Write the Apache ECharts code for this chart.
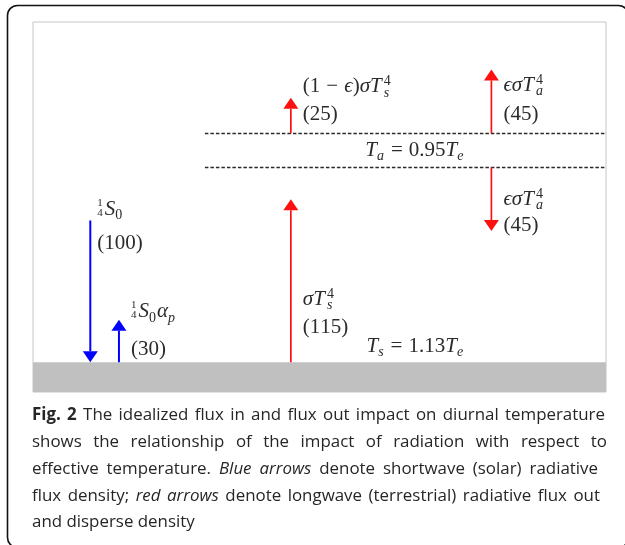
<!DOCTYPE html>
<html>
<head>
<meta charset="utf-8">
<title>Idealized flux in and flux out</title>
<script src="https://cdn.jsdelivr.net/npm/echarts@6/dist/echarts.min.js"></script>
<style>
html,body{margin:0;padding:0;background:#fff;}
#chart{width:625px;height:545px;}
</style>
</head>
<body>
<div id="chart"></div>
<script>
// ---------------- data ----------------
const fluxNames = ['1/4 S_0', '1/4 S_0 α_p', 'σT_s^4', '(1 − ϵ)σT_s^4', 'ϵσT_a^4', 'ϵσT_a^4'];
const fluxValues = [100, 30, 115, 25, 45, 45];
const fluxDirections = ['down', 'up', 'up', 'up', 'up', 'down'];
const fluxBands = ['shortwave', 'shortwave', 'longwave', 'longwave', 'longwave', 'longwave'];
const layerNames = ['T_a = 0.95T_e', 'T_s = 1.13T_e'];
const captionLines = [
  'Fig. 2 The idealized flux in and flux out impact on diurnal temperature',
  'shows the relationship of the impact of radiation with respect to',
  'effective temperature. Blue arrows denote shortwave (solar) radiative',
  'flux density; red arrows denote longwave (terrestrial) radiative flux out',
  'and disperse density'
];

// ---------------- layout (not data) ----------------
const LEVEL = { surface: 0, atmBottom: 137.5, atmTop: 161.5 };
const arrowLayout = [
  { col: 10, level: 'surface',   attach: 'tip'  },
  { col: 15, level: 'surface',   attach: 'tail' },
  { col: 45, level: 'surface',   attach: 'tail' },
  { col: 45, level: 'atmTop',    attach: 'tail' },
  { col: 80, level: 'atmTop',    attach: 'tail' },
  { col: 80, level: 'atmBottom', attach: 'tail' }
];
const labelLayout = [
  { at: 'tail', dx: 7,  dy: [-11, 23] },
  { at: 'tip',  dx: 12, dy: [-8, 30] },
  { at: 'tail', dx: 12, dy: [-63, -35] },
  { at: 'tip',  dx: 12, dy: [-11, 17] },
  { at: 'tip',  dx: 12, dy: [16, 45] },
  { at: 'tail', dx: 12, dy: [32, 58] }
];
const layerLabelLayout = [ { x: 58, y: 149.6 }, { x: 58.2, y: 11.4 } ];
const DASH_FROM = 30;

const SERIF = "'Liberation Serif', 'DejaVu Serif', serif";
const MATH_COLOR = '#2b2b2b';
const BLUE = '#0000ff', RED = '#ff1010';

function tok(size, italic, pad, extra) {
  return Object.assign({
    fontFamily: SERIF, fontSize: size, fontStyle: italic ? 'italic' : 'normal',
    height: size, padding: pad, verticalAlign: 'top', color: MATH_COLOR, align: 'left'
  }, extra || {});
}
const rich = {
  it:   tok(21, true,  [4.5, 0, 0, 0]),
  rm:   tok(21, false, [4.5, 0, 0, 0]),
  op:   tok(21, false, [4.5, 6, 0, 6]),
  sup:  tok(14, false, [2.6, 0, 0, 2]),
  supz: tok(14, false, [2.6, 0, 0, 2], { width: 0 }),
  sub:  tok(14, false, [14.3, 1, 0, 0]),
  subi: tok(14, true,  [14.3, 1, 0, 0]),
  fn:   tok(11, false, [3.4, 0, 0, 0], { width: 0 }),
  fd:   tok(11, false, [13.4, 2, 0, 0])
};
const isLetter = c => /[A-Za-zα-ωϵ]/.test(c);

// tiny TeX-like converter: "σT_s^4" -> rich text tokens
function texToRich(s) {
  let out = '', i = 0;
  while (i < s.length) {
    const c = s[i];
    const frac = s.slice(i).match(/^(\d)\/(\d)/);
    if (frac) { out += '{fn|' + frac[1] + '}{fd|' + frac[2] + '}'; i += 3; continue; }
    if (c === '_' || c === '^') {
      let sub = null, sup = null;
      while (s[i] === '_' || s[i] === '^') {
        if (s[i] === '_') sub = s[i + 1]; else sup = s[i + 1];
        i += 2;
      }
      if (sup && sub) out += '{supz|' + sup + '}{' + (isLetter(sub) ? 'subi' : 'sub') + '|' + sub + '}';
      else if (sup) out += '{sup|' + sup + '}';
      else out += '{' + (isLetter(sub) ? 'subi' : 'sub') + '|' + sub + '}';
      continue;
    }
    if (c === ' ') { i++; continue; }
    if (c === '=' || c === '−') { out += '{op|' + c + '}'; i++; continue; }
    out += '{' + (isLetter(c) ? 'it' : 'rm') + '|' + c + '}';
    i++;
  }
  return out;
}

function mathText(x, y, str) {
  return {
    type: 'text', x: x, y: y, silent: true,
    style: {
      text: str, rich: rich, lineHeight: 30, fill: MATH_COLOR,
      fontFamily: SERIF, fontSize: 21,
      align: 'left', verticalAlign: 'middle', textAlign: 'left', textVerticalAlign: 'middle'
    }
  };
}

// arrow data: [column, start value, end value]
const arrowData = fluxValues.map(function (v, i) {
  const L = arrowLayout[i];
  const lvl = LEVEL[L.level];
  const sign = fluxDirections[i] === 'up' ? 1 : -1;
  let start, end;
  if (L.attach === 'tail') { start = lvl; end = lvl + sign * v; }
  else { end = lvl; start = lvl - sign * v; }
  return [L.col, start, end];
});

function renderArrow(params, api) {
  const i = params.dataIndex;
  const x = api.value(0);
  const p0 = api.coord([x, api.value(1)]);
  const p1 = api.coord([x, api.value(2)]);
  const dir = p1[1] < p0[1] ? -1 : 1;
  const headL = 11, headW = 15;
  const color = fluxBands[i] === 'shortwave' ? BLUE : RED;
  const baseY = p1[1] - dir * headL;
  const lay = labelLayout[i];
  const anchor = lay.at === 'tail' ? p0 : p1;
  return {
    type: 'group',
    children: [
      { type: 'line', shape: { x1: p0[0], y1: p0[1], x2: p1[0], y2: baseY },
        style: { stroke: color, lineWidth: fluxBands[i] === 'shortwave' ? 2 : 1.7 } },
      { type: 'polygon', shape: { points: [[p1[0], p1[1]], [p1[0] - headW / 2, baseY], [p1[0] + headW / 2, baseY]] },
        style: { fill: color } },
      mathText(anchor[0] + lay.dx, anchor[1] + lay.dy[0], texToRich(fluxNames[i])),
      mathText(anchor[0] + lay.dx, anchor[1] + lay.dy[1], texToRich('(' + fluxValues[i] + ')'))
    ]
  };
}

function renderStructure(params, api) {
  const g0 = api.coord([0, -21]);
  const g1 = api.coord([100, LEVEL.surface]);
  const children = [
    { type: 'rect', shape: { x: g0[0], y: g1[1], width: g1[0] - g0[0], height: g0[1] - g1[1] },
      style: { fill: '#c0c0c0' } }
  ];
  ['atmTop', 'atmBottom'].forEach(function (k) {
    const a = api.coord([DASH_FROM, LEVEL[k]]);
    const b = api.coord([100, LEVEL[k]]);
    children.push({ type: 'line', shape: { x1: a[0], y1: Math.round(a[1]) + 0.5, x2: b[0], y2: Math.round(b[1]) + 0.5 },
      style: { stroke: '#2a2a2a', lineWidth: 1.6, lineDash: [3.5, 2] } });
  });
  layerNames.forEach(function (name, i) {
    const p = api.coord([layerLabelLayout[i].x, layerLabelLayout[i].y]);
    children.push(mathText(p[0], p[1], texToRich(name)));
  });
  return { type: 'group', children: children };
}

// ---------------- caption ----------------
const CAP_FAMILY = "'Open Sans', 'Noto Sans', sans-serif";
const CAP_SIZE = 16.9;
const CAP_COLOR = '#262626';
const captionLeft = 32;
const captionRight = [605, 607, 598, 600, null];
const captionY = [415, 442, 469, 496, 522];
const boldPhrases = ['Fig. 2'];
const italicPhrases = ['Blue arrows', 'red arrows'];
const measureCtx = document.createElement('canvas').getContext('2d');
function capFontStr(w) { return (w.italic ? 'italic ' : '') + (w.bold ? 'bold ' : '') + CAP_SIZE + 'px ' + CAP_FAMILY; }
function styledWords(line) {
  const words = [];
  const re = /\S+/g; let m;
  while ((m = re.exec(line))) words.push({ text: m[0], start: m.index, end: m.index + m[0].length });
  function inPhrase(list, w) {
    return list.some(function (p) { const k = line.indexOf(p); return k >= 0 && w.start >= k && w.end <= k + p.length; });
  }
  words.forEach(function (w) { w.bold = inPhrase(boldPhrases, w); w.italic = inPhrase(italicPhrases, w); });
  return words;
}
const captionGraphics = [];
captionLines.forEach(function (line, li) {
  const words = styledWords(line);
  let total = 0;
  words.forEach(function (w) { measureCtx.font = capFontStr(w); w.width = measureCtx.measureText(w.text).width; total += w.width; });
  measureCtx.font = capFontStr({});
  const space = measureCtx.measureText(' ').width;
  const gap = captionRight[li] != null && words.length > 1 ? (captionRight[li] - captionLeft - total) / (words.length - 1) : space;
  let x = captionLeft;
  words.forEach(function (w) {
    captionGraphics.push({
      type: 'text', x: x, y: captionY[li], silent: true,
      style: { text: w.text, fontFamily: CAP_FAMILY, fontSize: CAP_SIZE,
        fontWeight: w.bold ? 'bold' : 'normal', fontStyle: w.italic ? 'italic' : 'normal',
        fill: CAP_COLOR, textAlign: 'left', textVerticalAlign: 'middle', align: 'left', verticalAlign: 'middle' }
    });
    x += w.width + gap;
  });
});

const chart = echarts.init(document.getElementById('chart'), null, { renderer: 'canvas' });
chart.setOption({
  animation: false,
  backgroundColor: '#ffffff',
  grid: { left: 33, right: 19, top: 22, bottom: 153, show: true, borderColor: '#c6c6c6', borderWidth: 1, backgroundColor: '#ffffff' },
  xAxis: { type: 'value', min: 0, max: 100, show: false },
  yAxis: { type: 'value', min: -21, max: 240, show: false },
  graphic: [
    { type: 'rect', silent: true, shape: { x: 7.5, y: 5.5, width: 621, height: 542, r: 10 },
      style: { fill: 'none', stroke: '#111111', lineWidth: 1.6 } }
  ].concat(captionGraphics),
  series: [
    { type: 'custom', name: 'structure', renderItem: renderStructure, data: [[0, 0]], silent: true, z: 1 },
    { type: 'custom', name: 'flux', renderItem: renderArrow, data: arrowData, silent: true, z: 2 }
  ]
});
</script>
</body>
</html>
